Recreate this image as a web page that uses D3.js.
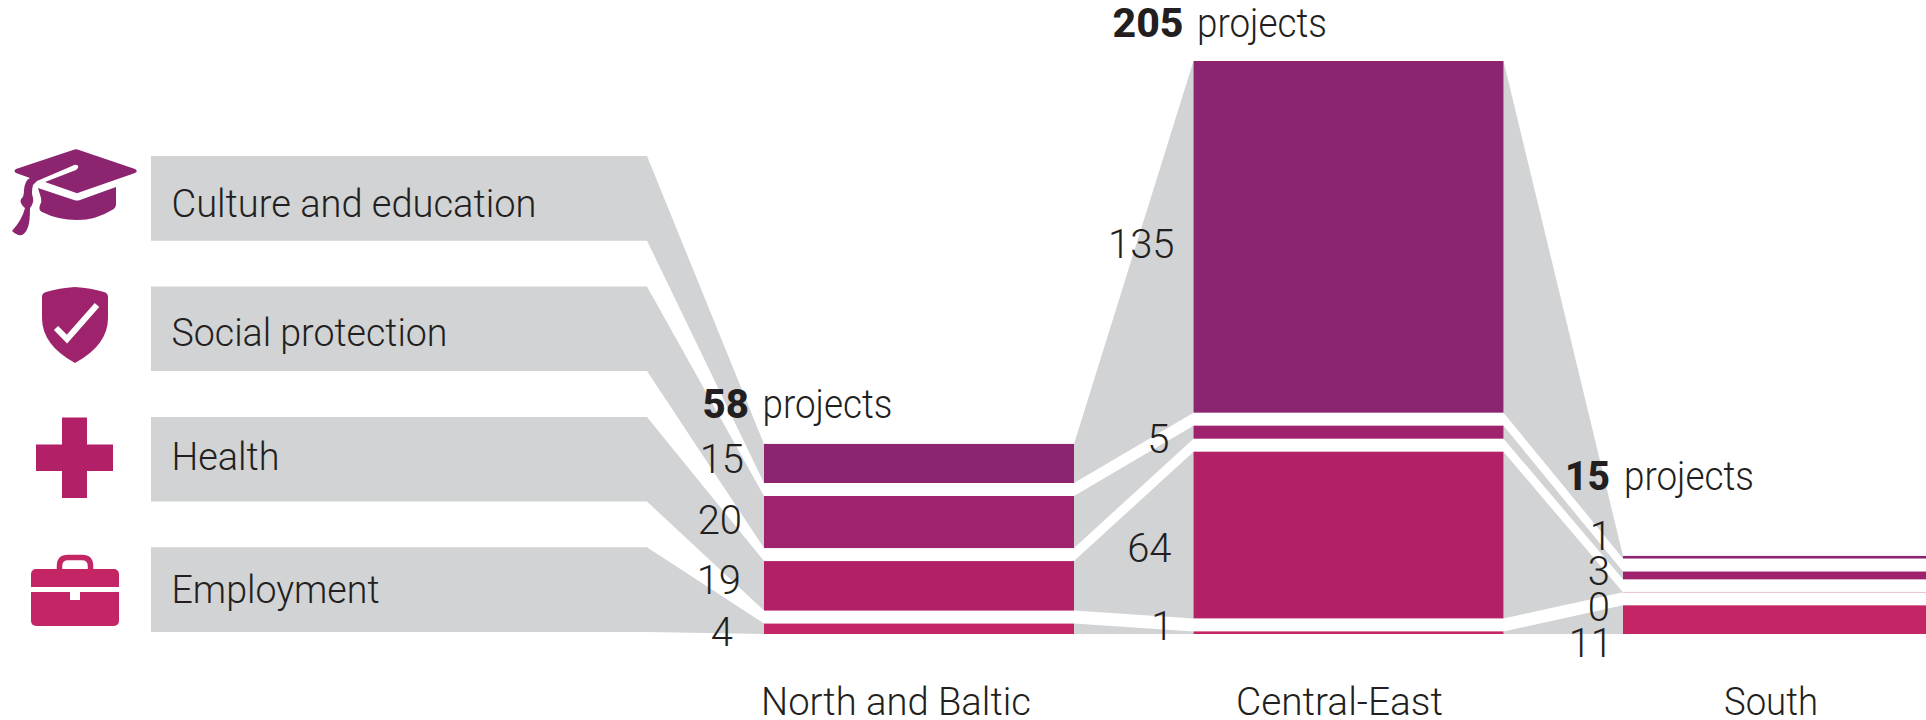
<!DOCTYPE html>
<html><head><meta charset="utf-8">
<script src="https://cdn.jsdelivr.net/npm/d3@7"></script>
<style>
html,body{margin:0;padding:0;background:#fff;overflow:hidden}
svg{display:block}
text{font-family:Roboto,"Noto Sans",sans-serif;fill:#231f20;font-size:38px;font-weight:350}
text.big{font-size:40px}
</style></head><body>
<svg id="c" width="1926" height="720"></svg>
<script>
// ---- data ----
const regions = ["North and Baltic", "Central-East", "South"];
const themes = ["Culture and education", "Social protection", "Health", "Employment"];
const culture = [15, 135, 1];
const social = [20, 5, 3];
const health = [19, 64, 0];
const employment = [4, 1, 11];
const totals = [58, 205, 15];

// ---- styles and layout (not data) ----
const colors = ["#8c2470", "#9f236c", "#b22068", "#c42565"];
const grey = "#d1d3d4";
const W = 1926, H = 720, baseY = 634, gap = 13;
const series = [culture, social, health, employment];

const svg = d3.select("#c");
const x = d3.scaleBand().domain(regions).range([764, 1933]).paddingInner(119.5 / 429.5).paddingOuter(0);
const h = d3.scaleLinear().domain([0, 205]).range([0, 534]);
const bandY = d3.scaleBand().domain(themes).range([156, 632]).paddingInner(45.8 / 130.5).paddingOuter(0);
const bandX0 = 151, bandX1 = 647;

// stack from the bottom, theme 4 lowest
const stacks = regions.map((r, ri) => {
  let y = baseY; const out = [];
  for (let s = series.length - 1; s >= 0; s--) {
    const v = series[s][ri];
    out[s] = {theme: themes[s], region: r, value: v, y0: y - h(v), y1: y, s, ri};
    y -= h(v) + gap;
  }
  return out;
});

// grey ribbons
const line = d3.line();
const ribbons = [];
themes.forEach((t, s) => {
  const top = bandY(t), bot = top + bandY.bandwidth();
  const f = stacks[0][s];
  ribbons.push([[bandX0, top], [bandX1, top], [x(regions[0]), f.y0], [x(regions[0]), f.y1], [bandX1, bot], [bandX0, bot]]);
  for (let r = 0; r < regions.length - 1; r++) {
    const a = stacks[r][s], b = stacks[r + 1][s];
    const xa = x(regions[r]) + x.bandwidth(), xb = x(regions[r + 1]);
    ribbons.push([[xa, a.y0], [xb, b.y0], [xb, b.y1], [xa, a.y1]]);
  }
});
svg.append("g").selectAll("path").data(ribbons).join("path")
  .attr("d", d => line(d) + "Z").attr("fill", grey);

// bars
svg.append("g").selectAll("rect").data(stacks.flat()).join("rect")
  .attr("x", d => x(d.region)).attr("width", x.bandwidth())
  .attr("y", d => d.value === 0 ? d.y0 - 0.4 : d.y0)
  .attr("height", d => d.value === 0 ? 0.8 : d.y1 - d.y0)
  .attr("fill", d => colors[d.s])
  .attr("opacity", d => d.value === 0 ? 0.35 : 1);

// helper: real text squeezed to the reference's narrow typeface
function label(sel, txt, xp, yp, width, anchor) {
  const t = sel.append("text").attr("x", xp).attr("y", yp).text(txt);
  if (anchor) t.attr("text-anchor", anchor);
  if (width) t.attr("textLength", width).attr("lengthAdjust", "spacingAndGlyphs");
  return t;
}
const g = svg.append("g");

// theme labels
const themeLabelBase = [61, 59.5, 53, 56];
const themeLabelW = [365, 276, 108, 208];
themes.forEach((t, i) => label(g, t, 171.5, bandY(t) + themeLabelBase[i], themeLabelW[i]));

// region labels
const regionNudge = [-3, 42.5, 101];
const regionW = [270, 207, 94];
regions.forEach((r, i) => label(g, r, x(r) + regionNudge[i], 715, regionW[i]));

// value labels (right aligned), offset from each bar
const valueRight = [
  [-20, -19, -11],
  [-22, -24, -13],
  [-23, -22, -13],
  [-31, -20, -10]
];
const valueNudge = [
  [10, 21.5, -7.5],
  [12, 21, 10],
  [8, 27, 29],
  [17, 7, 37]
];
stacks.forEach((st, ri) => st.forEach(d => {
  const mid = d.y0 + (d.y1 - d.y0) / 2;
  label(g, String(d.value), x(d.region) + valueRight[d.s][ri], mid + valueNudge[d.s][ri], 0, "end").attr("class", "big");
}));

// totals: bold figure, then the word
const totalUp = [25.5, 24, 66];
const totalBoldLeft = [-61.6, -81, -58];
const totalBoldW = [46.5, 71, 45];
const wordLeft = [-1.5, 3.5, 1];
totals.forEach((n, i) => {
  const y = stacks[i][0].y0 - totalUp[i];
  label(g, String(n), x(regions[i]) + totalBoldLeft[i], y, totalBoldW[i]).attr("class", "big").style("font-weight", 800);
  label(g, "projects", x(regions[i]) + wordLeft[i], y, 130).attr("class", "big");
});

// icons
const ic = svg.append("g");
ic.append("path").attr("fill", colors[0]).attr("d",
 "M73,150 Q76,148.5 79,150 L135,169 Q138.5,171 135,173 L79,192.5 Q77,193.5 75,192.5 L45,182 L76,170 Q80,167 77,165 Q75,164 72,166 L37,181 L33,185 Q31,192 33,198 Q34,203 30,208 Q30,222 28,227 Q26,233 22,235 Q17,236 12,231 Q22,220 25,208 Q19,203 21,199 Q24,197 24,190 Q25,180 30,178 L16,173 Q13,171 16,169 Z");
ic.append("path").attr("fill", colors[0]).attr("d",
 "M38,188 L74,200 Q77,201 80,200 L116,187 L116,204 Q116,208 112,210 Q96,220 77,220 Q58,220 42,212 Q38,210 40,205 Q42,202 41,198 Z");
ic.append("path").attr("fill", colors[1]).attr("d",
 "M75,287 Q91,288 104,292 Q108,293 108,297 L108,318 Q108,345 75,363 Q42,345 42,318 L42,297 Q42,293 46,292 Q59,288 75,287 Z");
ic.append("path").attr("fill", "none").attr("stroke", "#fff").attr("stroke-width", 6).attr("d", "M56,328 L67,339 L97,305");
ic.append("path").attr("fill", colors[2]).attr("d",
 "M62,417.5 H87 V444.5 H113 V471 H87 V498 H62 V471 H36 V444.5 H62 Z");
ic.append("rect").attr("x", 31).attr("y", 569).attr("width", 88).attr("height", 57).attr("rx", 5).attr("fill", colors[3]);
ic.append("path").attr("fill", "none").attr("stroke", colors[3]).attr("stroke-width", 5.5)
  .attr("d", "M59.5,570 V566 Q59.5,557.5 68,557.5 H82 Q90.5,557.5 90.5,566 V570");
ic.append("rect").attr("x", 31).attr("y", 587).attr("width", 88).attr("height", 5).attr("fill", "#fff");
ic.append("rect").attr("x", 70).attr("y", 592).attr("width", 10).attr("height", 8).attr("fill", "#fff");
</script>
</body></html>
